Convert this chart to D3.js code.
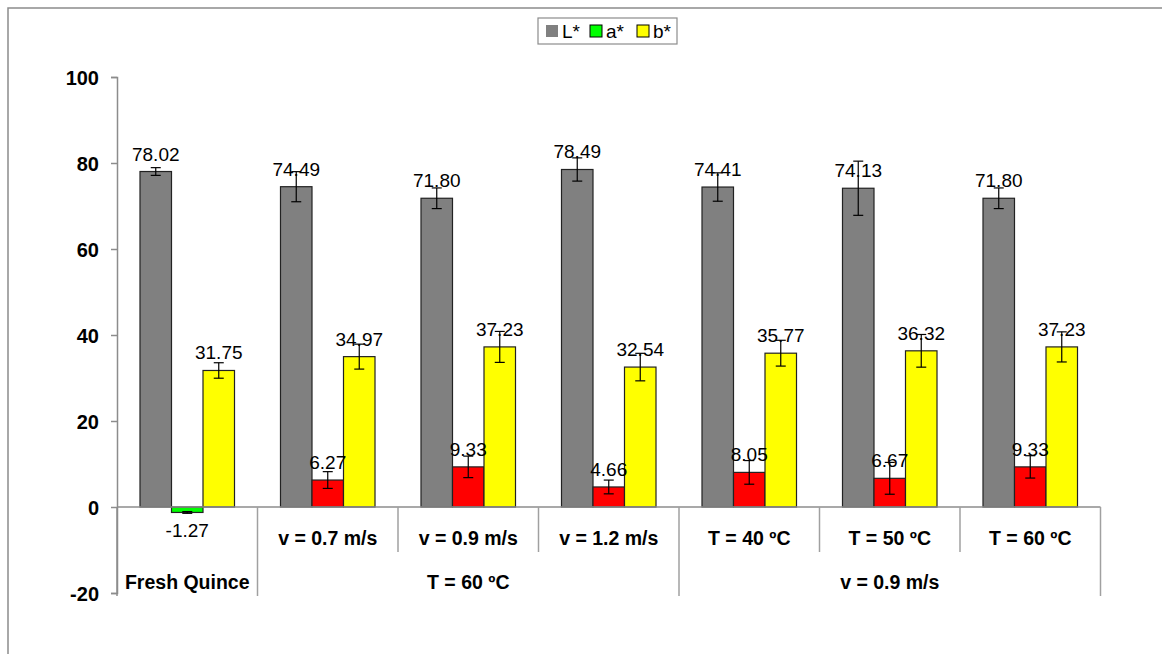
<!DOCTYPE html>
<html><head><meta charset="utf-8">
<script src="https://cdn.jsdelivr.net/npm/d3@7"></script>
<style>body{margin:0;background:#fff}svg{display:block}</style>
</head><body>
<svg id="chart" width="1162" height="654"></svg>
<script>
const categories = ["Fresh Quince","v = 0.7 m/s","v = 0.9 m/s","v = 1.2 m/s","T = 40 ºC","T = 50 ºC","T = 60 ºC"];
const groupLabels = [{label:"Fresh Quince", from:0, to:0},{label:"T = 60 ºC", from:1, to:3},{label:"v = 0.9 m/s", from:4, to:6}];
const series = ["L*","a*","b*"];
const Lvals = [78.02,74.49,71.80,78.49,74.41,74.13,71.80];
const Lerr  = [0.9,3.5,2.4,2.7,3.3,6.3,2.4];
const avals = [-1.27,6.27,9.33,4.66,8.05,6.67,9.33];
const aerr  = [0.2,1.95,2.5,1.6,2.75,3.7,2.6];
const bvals = [31.75,34.97,37.23,32.54,35.77,36.32,37.23];
const berr  = [1.8,2.9,3.6,3.2,3.0,3.8,3.5];
const yTicks = [-20,0,20,40,60,80,100];

const svg = d3.select("#chart");
const F = "'Liberation Sans', Arial, sans-serif";

// outer frame
svg.append("path").attr("d","M8,654V8H1162").attr("fill","none").attr("stroke","#8c8c8c").attr("stroke-width",1.5);

const y = d3.scaleLinear().domain([-20,100]).range([593,77]);
const x0 = d3.scaleBand().domain(categories).range([117,1100.5]).paddingInner(0).paddingOuter(0);
const x1 = d3.scaleBand().domain(series).range([0,x0.bandwidth()]).paddingInner(0).paddingOuter(0.73);

const colorFor = (s,v) => s==="L*" ? "#808080" : s==="b*" ? "#ffff00" : (v<0 ? "#00ff00" : "#ff0000");
const data = [];
categories.forEach((c,i)=>{
  data.push({c, s:"L*", v:Lvals[i], e:Lerr[i]});
  data.push({c, s:"a*", v:avals[i], e:aerr[i]});
  data.push({c, s:"b*", v:bvals[i], e:berr[i]});
});

// y axis
const yAxis = d3.axisLeft(y).tickValues(yTicks).tickSize(6).tickPadding(12).tickFormat(d=>String(d));
const ya = svg.append("g").attr("transform","translate(117,0)").call(yAxis);
ya.select(".domain").attr("stroke","#8c8c8c").attr("stroke-width",1.5);
ya.selectAll(".tick line").attr("stroke","#8c8c8c").attr("stroke-width",1.5);
ya.selectAll(".tick text").attr("font-family",F).attr("font-size",20).attr("font-weight","bold").attr("fill","#000").attr("dy","0.36em");

// bars
const g = svg.append("g");
g.selectAll("rect.bar").data(data).join("rect")
  .attr("x", d=>x0(d.c)+x1(d.s))
  .attr("width", x1.bandwidth())
  .attr("y", d=>y(Math.max(0,d.v)))
  .attr("height", d=>Math.abs(y(d.v)-y(0)))
  .attr("fill", d=>colorFor(d.s,d.v))
  .attr("stroke","#222").attr("stroke-width",1.2);

// zero axis line
svg.append("line").attr("x1",117).attr("x2",1100.5).attr("y1",y(0)).attr("y2",y(0)).attr("stroke","#8c8c8c").attr("stroke-width",1.5);

// category dividers
const bounds = d3.range(categories.length+1).map(i => i<categories.length ? x0(categories[i]) : x0(categories[categories.length-1])+x0.bandwidth());
const groupEdges = new Set();
groupLabels.forEach(gl=>{groupEdges.add(gl.from); groupEdges.add(gl.to+1);});
bounds.forEach((bx,i)=>{
  if(i===0) return;
  const full = groupEdges.has(i);
  svg.append("line").attr("x1",bx).attr("x2",bx).attr("y1",y(0)).attr("y2", full?596:552)
    .attr("stroke", "#a0a0a0").attr("stroke-width",1.5);
});
svg.append("line").attr("x1",117).attr("x2",117).attr("y1",y(0)).attr("y2",596).attr("stroke","#8c8c8c").attr("stroke-width",1.5);

// error bars
const eg = svg.append("g").attr("stroke","#000").attr("stroke-width",1.2);
data.forEach(d=>{
  const cx = x0(d.c)+x1(d.s)+x1.bandwidth()/2;
  const t = y(d.v+d.e), b = y(d.v-d.e);
  eg.append("line").attr("x1",cx).attr("x2",cx).attr("y1",t).attr("y2",b);
  eg.append("line").attr("x1",cx-5).attr("x2",cx+5).attr("y1",t).attr("y2",t);
  eg.append("line").attr("x1",cx-5).attr("x2",cx+5).attr("y1",b).attr("y2",b);
});

// value labels
svg.append("g").selectAll("text").data(data).join("text")
  .attr("x", d=>x0(d.c)+x1(d.s)+x1.bandwidth()/2)
  .attr("y", d=> d.v>=0 ? y(d.v)-11 : y(d.v)+25)
  .attr("text-anchor","middle").attr("font-family",F).attr("font-size",19).attr("fill","#000")
  .text(d=>d.v.toFixed(2));

// category labels (level 1)
categories.forEach((c,i)=>{
  const isSingle = groupLabels.some(gl=>gl.from===i && gl.to===i);
  if(isSingle) return;
  svg.append("text").attr("x", x0(c)+x0.bandwidth()/2).attr("y",545)
    .attr("text-anchor","middle").attr("font-family",F).attr("font-size",19.5).attr("font-weight","bold").text(c);
});
// group labels (level 2)
groupLabels.forEach(gl=>{
  const cx = (bounds[gl.from]+bounds[gl.to+1])/2;
  svg.append("text").attr("x",cx).attr("y",589)
    .attr("text-anchor","middle").attr("font-family",F).attr("font-size",19.5).attr("font-weight","bold").text(gl.label);
});

// legend
const lg = svg.append("g");
lg.append("rect").attr("x",538).attr("y",18).attr("width",139).attr("height",26).attr("fill","#fff").attr("stroke","#8c8c8c").attr("stroke-width",1.2);
const legendItems = [{s:"L*", c:"#808080", x:546},{s:"a*", c:"#00ff00", x:590},{s:"b*", c:"#ffff00", x:637}];
legendItems.forEach(it=>{
  lg.append("rect").attr("x",it.x).attr("y",25).attr("width",12).attr("height",12).attr("fill",it.c).attr("stroke", it.s==="L*"?"none":"#000").attr("stroke-width",1);
  lg.append("text").attr("x",it.x+16).attr("y",38).attr("font-family",F).attr("font-size",19).text(it.s);
});
</script>
</body></html>
